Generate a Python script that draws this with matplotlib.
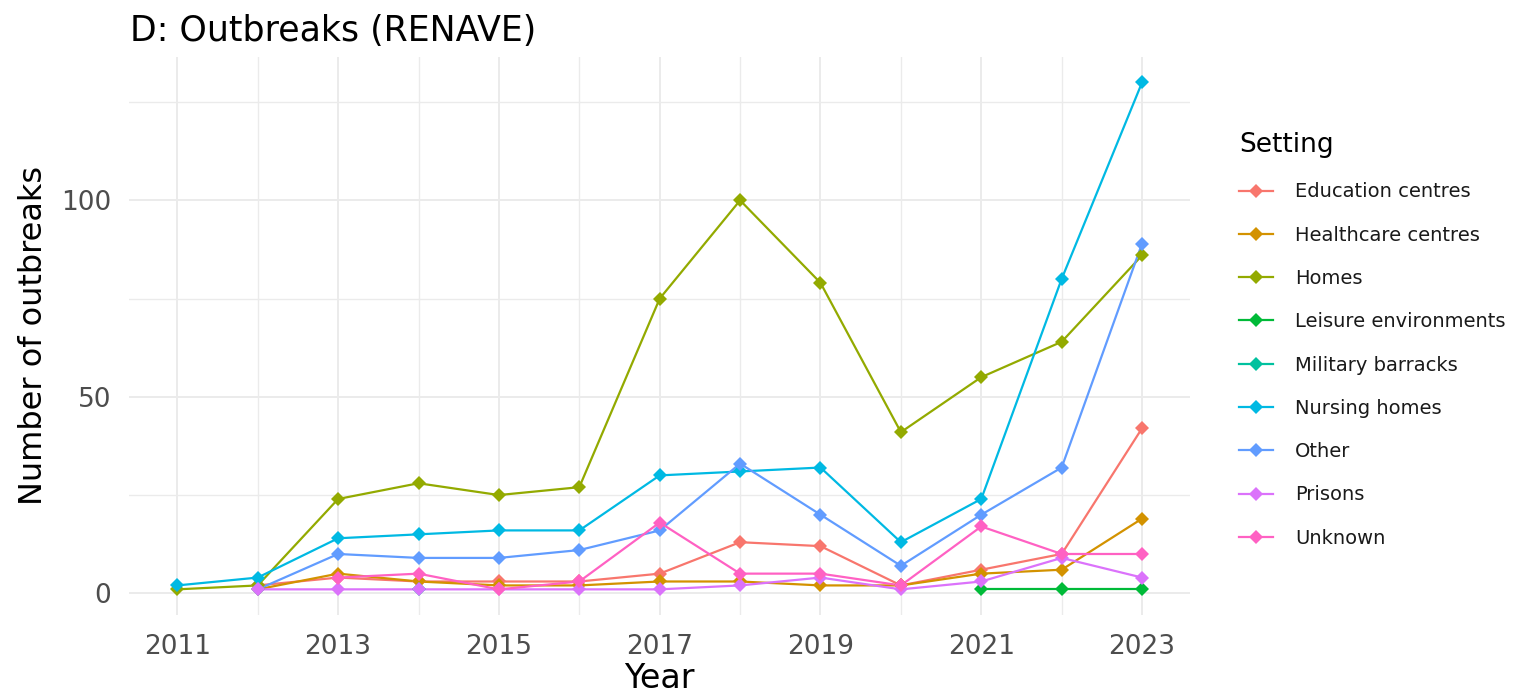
import numpy as np
import matplotlib
matplotlib.use("Agg")
import matplotlib.pyplot as plt
from matplotlib.ticker import FixedLocator
from matplotlib.lines import Line2D

plt.rcParams['font.family'] = ['DejaVu Sans']

years = list(range(2011, 2024))
N = None
education = [N, 2, 4, 3, 3, 3, 5, 13, 12, 2, 6, 10, 42]
healthcare = [N, 1, 5, 3, 2, 2, 3, 3, 2, 2, 5, 6, 19]
homes = [1, 2, 24, 28, 25, 27, 75, 100, 79, 41, 55, 64, 86]
leisure = [N, N, N, N, N, N, N, N, N, N, 1, 1, 1]
military = [N, N, N, 1, N, N, N, N, N, N, N, N, N]
nursing = [2, 4, 14, 15, 16, 16, 30, 31, 32, 13, 24, 80, 130]
other = [N, 1, 10, 9, 9, 11, 16, 33, 20, 7, 20, 32, 89]
prisons = [N, 1, 1, 1, 1, 1, 1, 2, 4, 1, 3, 9, 4]
unknown = [N, N, 4, 5, 1, 3, 18, 5, 5, 2, 17, 10, 10]

settings = ["Education centres", "Healthcare centres", "Homes",
            "Leisure environments", "Military barracks", "Nursing homes",
            "Other", "Prisons", "Unknown"]
series = [education, healthcare, homes, leisure, military, nursing,
          other, prisons, unknown]
colors = ["#F8766D", "#D39200", "#93AA00", "#00BA38", "#00C19F",
          "#00B9E3", "#619CFF", "#DB72FB", "#FF61C3"]

W, H = 1514, 700
fig = plt.figure(figsize=(W / 100, H / 100), dpi=100)
ax = fig.add_axes([129.1 / W, 1 - 614.7 / H, 1061.2 / W, 557.6 / H])

LW = 1.6
MS = 7
x = np.array(years, dtype=float)
for vals, c in zip(series, colors):
    y = np.array([np.nan if v is None else v for v in vals], dtype=float)
    ax.plot(x, y, color=c, lw=LW, zorder=2, solid_capstyle='butt')
for vals, c in zip(series, colors):
    y = np.array([np.nan if v is None else v for v in vals], dtype=float)
    ax.plot(x, y, linestyle='none', marker='D', markersize=MS,
            color=c, markeredgewidth=0, zorder=3)

ax.set_xlim(2010.4, 2023.6)
ax.set_ylim(-5.45, 136.45)
ax.xaxis.set_major_locator(FixedLocator([2011, 2013, 2015, 2017, 2019, 2021, 2023]))
ax.xaxis.set_minor_locator(FixedLocator([2012, 2014, 2016, 2018, 2020, 2022]))
ax.yaxis.set_major_locator(FixedLocator([0, 50, 100]))
ax.yaxis.set_minor_locator(FixedLocator([25, 75, 125]))
ax.grid(which='major', color='#EBEBEB', lw=1.4)
ax.grid(which='minor', color='#EBEBEB', lw=1.0)
ax.set_axisbelow(True)
for s in ax.spines.values():
    s.set_visible(False)
ax.tick_params(which='both', length=0)
ax.tick_params(axis='x', labelsize=19, labelcolor='#4D4D4D', pad=14)
ax.tick_params(axis='y', labelsize=19, labelcolor='#4D4D4D', pad=13)

fig.text(130 / W, 1 - 41 / H, "D: Outbreaks (RENAVE)", fontsize=25,
         ha='left', va='baseline', color='black')
fig.text(659.7 / W, 1 - 688 / H, "Year", fontsize=24,
         ha='center', va='baseline', color='black')
fig.text(42 / W, 1 - 335.9 / H, "Number of outbreaks", fontsize=23,
         rotation=90, rotation_mode='anchor', ha='center', va='baseline',
         color='black')

handles = [Line2D([], [], color=c, lw=LW, marker='D', markersize=MS,
                  markeredgewidth=0) for c in colors]
leg = fig.legend(handles, settings, loc='upper left',
                 bbox_to_anchor=(1239 / W, 1 - 132 / H),
                 frameon=False, title="Setting", title_fontsize=19,
                 fontsize=14, handlelength=1.77, handletextpad=1.12,
                 labelspacing=1.25, borderpad=0, borderaxespad=0,
                 alignment='left', numpoints=1)
for t in leg.get_texts():
    t.set_color('#1A1A1A')

fig.savefig("out.png", dpi=100)
